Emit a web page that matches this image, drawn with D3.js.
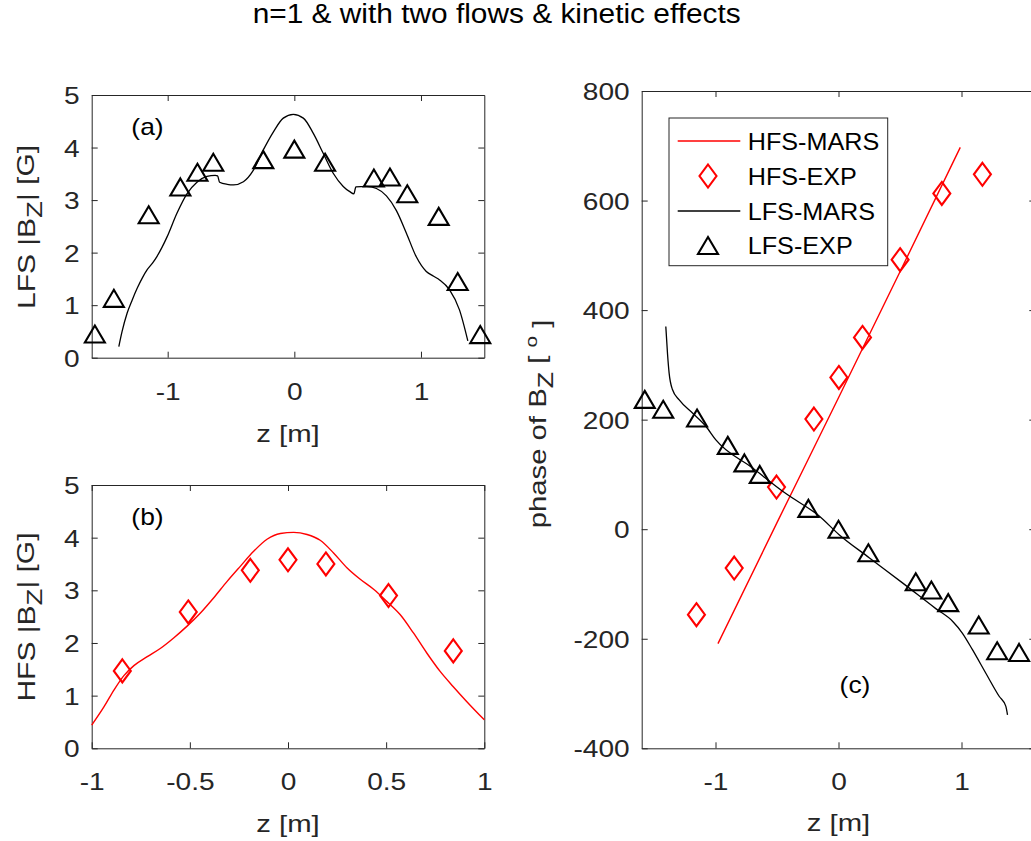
<!DOCTYPE html>
<html>
<head>
<meta charset="utf-8">
<script src="https://cdn.jsdelivr.net/npm/d3@7"></script>
<style>
  html, body { margin: 0; padding: 0; background: #fff; overflow: hidden; }
  svg { display: block; font-family: "Liberation Sans", Arial, Helvetica, sans-serif; }
</style>
</head>
<body>
<svg id="chart" width="1031" height="841"></svg>
<script>
// ---------------- data ----------------
const titleText = "n=1 & with two flows & kinetic effects";

// LFS experimental points (shared z for amplitude & phase)
const lfsZ      = [-1.575, -1.425, -1.15, -0.9, -0.765, -0.64, -0.245, 0, 0.243, 0.628, 0.755, 0.892, 1.14, 1.29, 1.468];
const lfsAmp    = [0.45, 1.13, 2.72, 3.25, 3.53, 3.72, 3.77, 3.97, 3.72, 3.42, 3.44, 3.12, 2.69, 1.45, 0.44];
const lfsPhase  = [237, 219, 203, 153, 121, 100, 38, 0, -43, -96, -111, -134, -175, -222, -225];

// HFS experimental points
const hfsAmpZ   = [-0.844, -0.508, -0.192, 0, 0.193, 0.512, 0.842];
const hfsAmp    = [1.47, 2.59, 3.38, 3.58, 3.50, 2.90, 1.85];
const hfsPhaseZ = [-1.155, -0.848, -0.504, -0.2, 0.003, 0.195, 0.501, 0.84, 1.17];
const hfsPhase  = [-156, -71, 77, 201, 277, 350, 492, 613, 648];

// MARS curves
const lfsMarsAmpZ = [-1.386,-1.36,-1.32,-1.28,-1.241,-1.2,-1.163,-1.12,-1.084,-1.045,-1.005,-0.927,-0.848,-0.769,-0.69,-0.625,-0.606,-0.59,-0.53,-0.48,-0.402,-0.323,-0.244,-0.165,-0.087,-0.008,0.071,0.15,0.228,0.307,0.386,0.438,0.47,0.486,0.57,0.648,0.727,0.806,0.885,0.963,1.042,1.1,1.147,1.226,1.304,1.37];
const lfsMarsAmp  = [0.21,0.5,0.85,1.1,1.32,1.52,1.67,1.80,1.93,2.10,2.30,2.75,3.12,3.34,3.45,3.47,3.46,3.34,3.30,3.29,3.35,3.57,3.96,4.30,4.56,4.63,4.56,4.27,3.89,3.51,3.26,3.16,3.12,3.25,3.26,3.22,3.08,2.80,2.37,1.92,1.64,1.55,1.48,1.29,0.91,0.32];

const hfsMarsAmpZ = [-1.0,-0.937,-0.886,-0.836,-0.785,-0.717,-0.649,-0.581,-0.514,-0.446,-0.378,-0.31,-0.242,-0.175,-0.107,-0.039,0.029,0.097,0.164,0.232,0.3,0.368,0.436,0.503,0.571,0.639,0.707,0.775,0.842,0.91,1.0];
const hfsMarsAmp  = [0.44,0.79,1.11,1.38,1.57,1.74,1.90,2.10,2.32,2.57,2.86,3.17,3.46,3.74,3.97,4.08,4.10,4.06,3.95,3.71,3.43,3.21,3.02,2.79,2.54,2.19,1.81,1.46,1.17,0.89,0.54];

const hfsMarsPhaseZ = [-0.98, -0.5, 0, 0.5, 0.99];
const hfsMarsPhase  = [-209, 12, 240, 470, 697];

const lfsMarsPhaseZ = [-1.404,-1.39,-1.377,-1.35,-1.295,-1.187,-1.079,-0.997,-0.7,-0.428,-0.157,0.005,0.249,0.52,0.791,0.927,1.008,1.089,1.198,1.306,1.36,1.374];
const lfsMarsPhase  = [370,320,285,255,236,212,188,163,112,65,24,-10,-52,-98,-145,-168,-190,-220,-263,-305,-323,-339];

const ticksA_x = [-1, 0, 1],  ticksA_y = [0, 1, 2, 3, 4, 5];
const ticksB_x = [-1, -0.5, 0, 0.5, 1], ticksB_y = [0, 1, 2, 3, 4, 5];
const ticksC_x = [-1, 0, 1],  ticksC_y = [-400, -200, 0, 200, 400, 600, 800];

const legendItems = [
  {label: "HFS-MARS", color: "#ff0000", type: "line"},
  {label: "HFS-EXP",  color: "#ff0000", type: "diamond"},
  {label: "LFS-MARS", color: "#000000", type: "line"},
  {label: "LFS-EXP",  color: "#000000", type: "triangle"}
];

// ---------------- drawing ----------------
const svg = d3.select("#chart");
const AX = "#262626";
const FS = 24;

const triPath = "M0,-8.5L10,8.5L-10,8.5Z";
const diaPath = "M0,-11.5L8.5,0L0,11.5L-8.5,0Z";

// widen text horizontally along its direction (reference glyphs are wider)
function stretch(sel, f) {
  sel.each(function() {
    const len = this.getComputedTextLength();
    if (len > 0) d3.select(this).attr("textLength", len * f).attr("lengthAdjust", "spacingAndGlyphs");
  });
}

svg.append("text")
  .attr("x", 496.7).attr("y", 23)
  .attr("text-anchor", "middle")
  .attr("font-size", 27)
  .attr("fill", "#000")
  .attr("textLength", 488).attr("lengthAdjust", "spacingAndGlyphs")
  .text(titleText);

function makePanel(box, xDom, yDom, xt, yt) {
  const x = d3.scaleLinear().domain(xDom).range([box.l, box.r]);
  const y = d3.scaleLinear().domain(yDom).range([box.b, box.t]);
  const g = svg.append("g");
  const tl = 6;
  const bottom = g.append("g").attr("transform", `translate(0,${box.b})`)
    .call(d3.axisBottom(x).tickValues(xt).tickSize(-tl).tickSizeOuter(0).tickPadding(25));
  const top = g.append("g").attr("transform", `translate(0,${box.t})`)
    .call(d3.axisTop(x).tickValues(xt).tickSize(-tl).tickSizeOuter(0).tickFormat(""));
  const left = g.append("g").attr("transform", `translate(${box.l},0)`)
    .call(d3.axisLeft(y).tickValues(yt).tickSize(-tl).tickSizeOuter(0).tickPadding(12));
  const right = g.append("g").attr("transform", `translate(${box.r},0)`)
    .call(d3.axisRight(y).tickValues(yt).tickSize(-tl).tickSizeOuter(0).tickFormat(""));
  [bottom, top, left, right].forEach(a => {
    a.selectAll("path.domain").attr("stroke", AX).attr("stroke-width", 1);
    a.selectAll(".tick line").attr("stroke", AX).attr("stroke-width", 1);
    a.selectAll("text").attr("font-size", FS).attr("fill", AX)
      .attr("font-family", '"Liberation Sans", Arial, sans-serif');
  });
  bottom.selectAll("text").text(d => d < 0 ? "-" + Math.abs(d) : String(d));
  left.selectAll("text").text(d => d < 0 ? "-" + Math.abs(d) : String(d)).attr("dy", "0.36em");
  stretch(bottom.selectAll("text"), 1.17);
  stretch(left.selectAll("text"), 1.17);
  return {x, y, g};
}

// Panel (a)
const A = makePanel({l: 91.7, r: 484.3, t: 95, b: 357.7}, [-1.6, 1.5], [0, 5], ticksA_x, ticksA_y);
// Panel (b)
const B = makePanel({l: 91.7, r: 484.3, t: 485, b: 748.3}, [-1, 1], [0, 5], ticksB_x, ticksB_y);
// Panel (c)
const C = makePanel({l: 641.7, r: 1035.3, t: 91, b: 748.3}, [-1.6, 1.6], [-400, 800], ticksC_x, ticksC_y);

function drawLine(P, xs, ys, color, w) {
  const line = d3.line().x(d => P.x(d[0])).y(d => P.y(d[1])).curve(d3.curveMonotoneX);
  P.g.append("path").datum(d3.zip(xs, ys))
    .attr("d", line).attr("fill", "none").attr("stroke", color).attr("stroke-width", w)
    .attr("stroke-linejoin", "round");
}
function drawMarkers(P, xs, ys, path, color) {
  P.g.append("g").selectAll("path").data(d3.zip(xs, ys)).join("path")
    .attr("d", path)
    .attr("transform", d => `translate(${P.x(d[0])},${P.y(d[1])})`)
    .attr("fill", "none").attr("stroke", color).attr("stroke-width", 2.1)
    .attr("stroke-linejoin", "miter");
}

// (a)
drawLine(A, lfsMarsAmpZ, lfsMarsAmp, "#000", 1.3);
drawMarkers(A, lfsZ, lfsAmp, triPath, "#000");
// (b)
drawLine(B, hfsMarsAmpZ, hfsMarsAmp, "#ff0000", 1.4);
drawMarkers(B, hfsAmpZ, hfsAmp, diaPath, "#ff0000");
// (c)
drawLine(C, hfsMarsPhaseZ, hfsMarsPhase, "#ff0000", 1.4);
drawMarkers(C, hfsPhaseZ, hfsPhase, diaPath, "#ff0000");
drawLine(C, lfsMarsPhaseZ, lfsMarsPhase, "#000", 1.3);
drawMarkers(C, lfsZ, lfsPhase, triPath, "#000");

// panel labels
[["(a)", 147.5, 135], ["(b)", 147.5, 525], ["(c)", 855, 693]].forEach(([t, x, y]) => {
  const el = svg.append("text").attr("x", x).attr("y", y).attr("text-anchor", "middle")
    .attr("font-size", 24).attr("fill", "#000").text(t);
  stretch(el, 1.1);
});

// x labels
[[288, 442], [288, 832], [838.5, 831]].forEach(([x, y]) => {
  const el = svg.append("text").attr("x", x).attr("y", y).attr("text-anchor", "middle")
    .attr("font-size", FS).attr("fill", AX).text("z [m]");
  stretch(el, 1.22);
});

// y labels (rotated)
function yLabel(cx, cy, parts, f) {
  const t = svg.append("text")
    .attr("transform", `translate(${cx},${cy}) rotate(-90)`)
    .attr("text-anchor", "middle").attr("font-size", FS).attr("fill", AX);
  parts.forEach(p => {
    const s = t.append("tspan").text(p.t);
    if (p.sub) s.attr("dy", "0.3em").attr("font-size", 22);
    if (p.back) s.attr("dy", "-0.3em");
    if (p.sup) s.attr("dy", "-0.5em").attr("font-size", 17);
    if (p.backSup) s.attr("dy", "0.5em");
  });
  stretch(t, f);
}
yLabel(35, 227, [{t: "LFS |B"}, {t: "Z", sub: true}, {t: "| [G]", back: true}], 1.25);
yLabel(35, 617, [{t: "HFS |B"}, {t: "Z", sub: true}, {t: "| [G]", back: true}], 1.25);
yLabel(546, 424, [{t: "phase of B"}, {t: "Z", sub: true}, {t: " [ ", back: true}, {t: "o", sup: true}, {t: " ]", backSup: true}], 1.22);

// legend
const leg = svg.append("g");
leg.append("rect").attr("x", 669).attr("y", 118).attr("width", 218.7).attr("height", 147.7)
  .attr("fill", "#fff").attr("stroke", AX).attr("stroke-width", 1);
const legY = [141, 176, 211, 245.5];
legendItems.forEach((it, i) => {
  const yy = legY[i];
  if (it.type === "line") {
    leg.append("line").attr("x1", 677.7).attr("x2", 740.3).attr("y1", yy).attr("y2", yy)
      .attr("stroke", it.color).attr("stroke-width", 1.3);
  } else {
    leg.append("path").attr("d", it.type === "diamond" ? diaPath : triPath)
      .attr("transform", `translate(708,${yy})`).attr("fill", "none")
      .attr("stroke", it.color).attr("stroke-width", 2.1);
  }
  const el = leg.append("text").attr("x", 747.7).attr("y", yy + 8.6).attr("font-size", FS)
    .attr("fill", "#000").text(it.label);
  stretch(el, 1.05);
});
</script>
</body>
</html>
